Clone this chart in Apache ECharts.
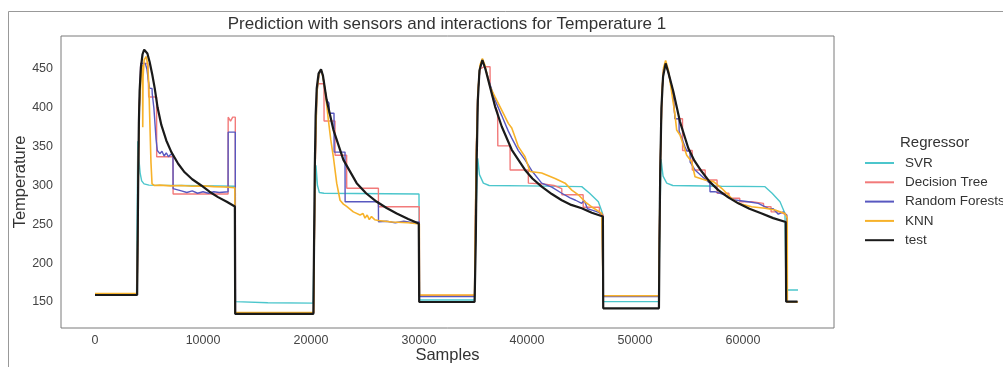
<!DOCTYPE html>
<html><head><meta charset="utf-8">
<script src="https://cdn.jsdelivr.net/npm/echarts@6/dist/echarts.min.js"></script>
<style>html,body{margin:0;padding:0;background:#fff}#c{width:1003px;height:367px}</style>
</head><body><div id="c"></div>
<script>
const xTicks = [0, 10000, 20000, 30000, 40000, 50000, 60000];
const yTicks = [150, 200, 250, 300, 350, 400, 450];
const seriesNames = ['SVR', 'Decision Tree', 'Random Forests', 'KNN', 'test'];

const svrPts = [[0,160],[3850,160],[3900,250],[3960,357],[4050,336],[4180,316],[4320,306],[4540,302],[5000,300.5],[8000,300],[12950,299],[13000,150.5],[16000,149],[20200,148.5],
[20300,240],[20460,326],[20600,300],[20770,291],[21200,290],[30000,289],[30040,152.5],[35150,152.5],
[35250,250],[35440,335],[35600,314],[35960,303],[36500,300],[40000,299.5],[45070,298.5],[45800,290],[46610,279],[47000,264],[47060,150.4],[52200,150.4],
[52300,250],[52410,334],[52600,312],[52940,303],[53500,300],[58000,299],[62040,298.5],[62700,290],[63430,279],[63890,264],[63980,165.5],[65100,165.5]];

const dtPts = [[0,160.5],[3900,160.5],[3950,230],[4020,330],[4100,400],[4200,440],[4230,457],[4900,457],[4970,414],[5700,414],[5710,337],[7220,337],[7230,289],[12320,289],[12330,388],[12500,388],[12550,383],[12700,383],[12750,388],[12990,388],[13000,136],[20250,136],
[20300,220],[20400,330],[20520,420],[20590,431],[21200,431],[21210,383],[22220,383],[22230,339],[23300,339],[23310,296.4],[26240,296.4],[26250,272.7],[30030,272.7],[30040,158.5],[35150,158.5],
[35200,230],[35300,340],[35450,420],[35650,450],[36050,453],[36580,453],[36590,427],[37040,402],[37280,395],[37300,351],[38430,351],[38440,320],[40120,320],[40130,303],[41500,302],[42500,300],[43220,296],[43230,288],[45200,288],[45210,272],[46700,272],[46710,264],[47050,262],[47060,157.5],[52200,157.5],
[52250,220],[52350,330],[52500,420],[52650,450],[52840,457],[53100,445],[53500,422],[53710,386],[54400,386],[54410,345],[55300,345],[55310,320],[56500,320],[56510,307],[57600,307],[57610,290],[58700,290],[58710,283.5],[59700,283.5],[59710,279],[60800,279],[60810,277],[61900,277],[61910,272.7],[62600,272.7],[62610,266],[63400,266],[63410,264],[64050,262],[64060,150.5],[65100,150.5]];

const rfPts = [[0,160],[3900,160],[3950,230],[4020,330],[4100,400],[4200,440],[4230,457],[4660,457],[4800,450],[4970,432],[5060,425],[5280,425],[5300,418],[5400,416],[5450,400],[5550,380],[5650,360],[5770,345],[6000,341],[6200,344],[6400,338],[6600,342],[6800,337],[7000,340],[7220,339],[7230,296],[8000,293],[8500,291],[9000,293],[9500,290],[10000,292],[10500,290],[11000,292],[11500,291],[12320,292],[12330,368.7],[12990,368.7],[13000,136],[20250,136],
[20300,220],[20400,340],[20550,420],[20750,443],[20930,449],[21100,441],[21450,410],[21670,406],[21680,393],[22130,393],[22140,343],[23150,343],[23160,279],[26240,279],[26250,253.4],[27000,254],[27800,252],[28600,254],[29400,252],[30030,253],[30040,157],[35150,157],
[35200,230],[35300,340],[35450,420],[35650,452],[35870,461],[36200,448],[36580,430],[37040,410],[37660,390],[38270,370],[38590,361],[39200,345],[39820,333],[40500,318],[41360,303],[42300,298],[43220,290],[43990,284],[44500,281],[45070,277],[45300,281],[45600,270],[46100,268],[46920,264],[47050,262],[47060,157],[52200,157],
[52250,220],[52350,330],[52500,420],[52650,450],[52840,457],[53100,445],[53500,420],[53710,386],[54080,386],[54090,370],[54630,350],[54800,344.5],[55100,344.5],[55110,330],[55560,320],[56500,308],[56940,302.8],[56950,292],[57410,292],[58340,287.8],[59260,281.3],[60490,279],[61420,277],[62350,270.6],[62800,270],[63270,263],[63740,266],[64050,262],[64060,150.5],[65100,150.5]];

const knnPts = [[0,160.8],[3900,160.8],[3950,230],[4020,330],[4100,400],[4250,440],[4400,455],[4420,375],[4450,440],[4550,462],[4750,466],[4880,455],[4980,430],[5080,380],[5180,330],[5280,302],[5500,300],[6000,300.5],[7000,299.5],[8000,300],[9000,299],[10000,299.5],[11000,298.5],[12000,298],[12950,297],[12960,136.5],[20250,136.5],
[20300,220],[20400,340],[20550,420],[20750,445],[20930,449],[21100,440],[21300,423],[21610,384],[21830,359],[22070,337],[22380,303],[22690,281],[23000,276],[23300,273],[23920,266],[24540,262],[24820,264],[25000,258],[25200,262],[25400,256],[25600,260],[25900,256],[26240,255],[27500,253],[29000,252],[30030,250.5],[30040,159],[35150,159],
[35200,230],[35300,340],[35450,420],[35650,455],[35870,463.6],[36100,455],[36580,427],[37040,414],[37660,397],[38270,380],[38590,374],[38900,362],[39200,350],[39820,337],[40280,318],[41360,316],[42600,309],[43530,303],[44150,294],[44760,288],[45380,279],[46150,271],[46920,264],[47050,262],[47060,158],[52200,158],
[52250,220],[52350,330],[52500,420],[52650,452],[52840,461],[53100,448],[53400,420],[53710,390.7],[53860,371.5],[54170,365],[54480,352],[54790,339],[55250,330.6],[55560,311.3],[56490,307],[57270,305],[58030,296.4],[58950,283.5],[59570,277],[60800,272.7],[62040,270.6],[62970,268.5],[63890,264],[64100,258],[64110,150],[65100,150]];

const testPts = [[0,159],[3900,159],[3950,230],[4000,310],[4060,380],[4130,422],[4250,452],[4400,469],[4550,475],[4700,475.5],[4850,470],[5060,459],[5300,443],[5530,425],[5800,400],[6140,378],[6600,358],[7070,343],[7700,328],[8300,317],[9000,308],[9840,300],[10600,292],[11390,285],[12200,279],[12950,273],
[12980,134.6],[20220,134.6],[20280,220],[20350,320],[20430,390],[20530,425],[20700,444],[20930,449.6],[21100,442],[21450,410],[22070,372],[23000,333],[24230,303],[25100,290],[26090,279],[27000,271],[27940,264],[29000,257],[29980,251],[30020,150],[35150,150],
[35200,150],[35260,230],[35340,330],[35450,410],[35600,448],[35870,461.6],[36150,450],[36580,427],[37040,402],[37660,376],[38590,346],[39820,320],[40500,309],[41360,298.5],[42300,289],[43220,281],[44100,275],[45070,270.6],[46000,265],[47030,260],[47060,141.8],[52220,141.8],
[52270,230],[52340,320],[52450,400],[52600,440],[52840,457.3],[53100,445],[53550,421],[54170,382],[54940,348],[55500,332],[56180,318],[56900,305],[57720,294],[58600,285],[59570,277],[60600,270],[61740,264],[62800,258],[63960,253],[64000,150.4],[65050,150.4]];

const seriesData = [svrPts, dtPts, rfPts, knnPts, testPts];
const colors = ['#4cc6cc', '#f27a7a', '#5858c0', '#f7b22a', '#1a1a1a'];
const widths = [1.4, 1.4, 1.4, 1.6, 2.2];

const FONT = "'Liberation Sans', Arial, sans-serif";
const chart = echarts.init(document.getElementById('c'), null, {renderer: 'canvas'});
chart.setOption({
  animation: false,
  backgroundColor: '#fff',
  color: colors,
  grid: {left: 61, right: 169, top: 36, bottom: 39, show: true, borderColor: '#7a7a7a', borderWidth: 1,
         backgroundColor: 'transparent', containLabel: false, outerBoundsMode: 'none'},
  xAxis: {
    type: 'value', min: -3150, max: 68430,
    axisLine: {show: false}, axisTick: {show: false}, splitLine: {show: false},
    axisLabel: {customValues: xTicks, margin: 6, fontSize: 12.5, color: '#444', fontFamily: FONT,
                formatter: v => String(v)},
    name: 'Samples', nameLocation: 'middle', nameGap: 19, nameMoveOverlap: false,
    nameTextStyle: {fontSize: 16.5, color: '#333', fontFamily: FONT}
  },
  yAxis: {
    type: 'value', min: 116.5, max: 492.5,
    axisLine: {show: false}, axisTick: {show: false}, splitLine: {show: false},
    axisLabel: {customValues: yTicks, margin: 8, fontSize: 12.5, color: '#444', fontFamily: FONT,
                formatter: v => String(v)},
    name: 'Temperature', nameLocation: 'middle', nameGap: 32, nameRotate: 90, nameMoveOverlap: false,
    nameTextStyle: {fontSize: 16.5, color: '#333', fontFamily: FONT}
  },
  legend: {
    orient: 'vertical', left: 865, top: 156, padding: 0, itemWidth: 29, itemHeight: 2, itemGap: 5.3, icon: 'rect',
    data: seriesNames,
    textStyle: {fontSize: 13.5, lineHeight: 14, color: '#333', fontFamily: FONT, padding: [0, 0, 0, 6]}
  },
  graphic: [
    {type: 'line', shape: {x1: 8.5, y1: 11.5, x2: 1003, y2: 11.5}, style: {stroke: '#999', lineWidth: 1}, silent: true},
    {type: 'line', shape: {x1: 8.5, y1: 11.5, x2: 8.5, y2: 367}, style: {stroke: '#999', lineWidth: 1}, silent: true},
    {type: 'text', x: 447, y: 24, style: {text: 'Prediction with sensors and interactions for Temperature 1', textAlign: 'center', textVerticalAlign: 'middle', font: "17px 'Liberation Sans', Arial, sans-serif", fill: '#333'}},
    {type: 'text', x: 900, y: 143, style: {text: 'Regressor', textAlign: 'left', textVerticalAlign: 'middle', font: "15px 'Liberation Sans', Arial, sans-serif", fill: '#333'}}
  ],
  series: seriesNames.map((n, i) => ({
    name: n, type: 'line', data: seriesData[i], showSymbol: false, symbol: 'none',
    lineStyle: {width: widths[i], color: colors[i]}, itemStyle: {color: colors[i]}, z: 2 + i
  }))
});
</script></body></html>
